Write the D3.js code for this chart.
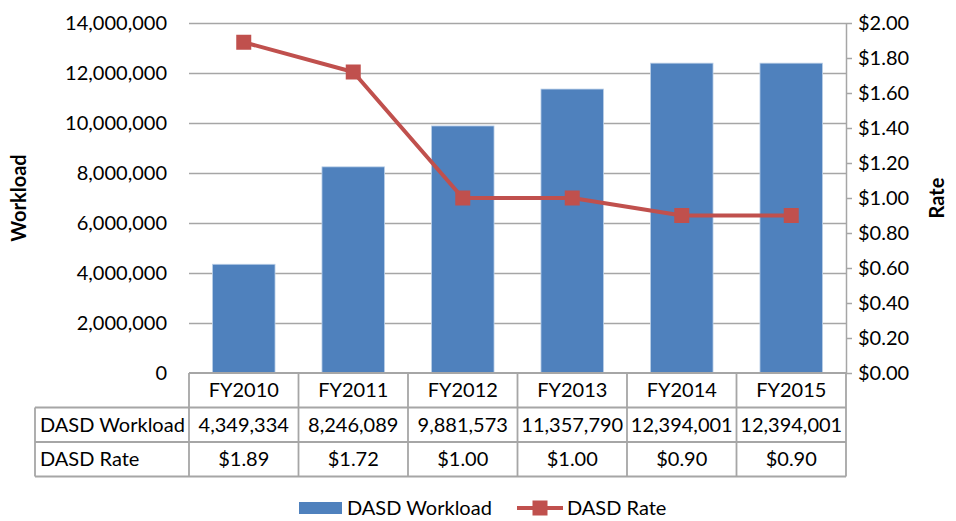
<!DOCTYPE html>
<html>
<head>
<meta charset="utf-8">
<script src="https://cdn.jsdelivr.net/npm/d3@7"></script>
<style>
  body { margin: 0; background: #fff; }
  svg text { font-family: Lato, "Open Sans", sans-serif; fill: #000; }
</style>
</head>
<body>
<div id="chart"></div>
<script>
const categories = ['FY2010', 'FY2011', 'FY2012', 'FY2013', 'FY2014', 'FY2015'];
const workload = [4349334, 8246089, 9881573, 11357790, 12394001, 12394001];
const rate = [1.89, 1.72, 1.00, 1.00, 0.90, 0.90];
const workloadTicks = [0, 2000000, 4000000, 6000000, 8000000, 10000000, 12000000, 14000000];
const rateTicks = [0, 0.2, 0.4, 0.6, 0.8, 1.0, 1.2, 1.4, 1.6, 1.8, 2.0];

const width = 956;
const height = 521;
const plot = { left: 189, right: 846, top: 23, bottom: 373 };
const rowH = 34.5;
const tableLeft = 35;
const fs = '20px';

const blue = '#4F81BD';
const red = '#C0504D';
const grid = '#A6A6A6';

const svg = d3.select('#chart')
    .append('svg')
    .attr('width', width)
    .attr('height', height);

const xScale = d3.scaleBand()
    .domain(categories)
    .range([plot.left, plot.right])
    .padding(0);

const barW = xScale.bandwidth() / 1.75; // gap width 75%

const yLeft = d3.scaleLinear()
    .domain([0, 14000000])
    .range([plot.bottom, plot.top]);

const yRight = d3.scaleLinear()
    .domain([0, 2])
    .range([plot.bottom, plot.top]);

// gridlines
svg.append('g')
    .attr('transform', `translate(${plot.left},0)`)
    .call(d3.axisLeft(yLeft).tickValues(workloadTicks.slice(1)).tickSize(-(plot.right - plot.left)).tickFormat(''))
    .call(g => g.select('.domain').remove())
    .call(g => g.selectAll('line').attr('stroke', grid).attr('stroke-width', 1.5));

// left tick labels
svg.append('g')
    .attr('transform', `translate(${plot.left},0)`)
    .call(d3.axisLeft(yLeft).tickValues(workloadTicks).tickSize(0).tickPadding(22).tickFormat(d3.format(',')))
    .call(g => g.select('.domain').remove())
    .call(g => g.selectAll('text').style('font-size', fs).attr('dy', '0.34em'));

// bars
svg.append('g')
    .selectAll('rect')
    .data(categories)
    .join('rect')
    .attr('x', d => xScale(d) + (xScale.bandwidth() - barW) / 2)
    .attr('y', (d, i) => yLeft(workload[i]))
    .attr('width', barW)
    .attr('height', (d, i) => plot.bottom - yLeft(workload[i]))
    .attr('fill', blue)
    .attr('stroke', '#BCD0E8')
    .attr('stroke-width', 0.8);

// right axis
svg.append('g')
    .attr('transform', `translate(${plot.right},0)`)
    .call(d3.axisRight(yRight).tickValues(rateTicks).tickSize(6).tickPadding(6).tickSizeOuter(0).tickFormat(d => '$' + d.toFixed(2)))
    .call(g => g.selectAll('line, .domain').attr('stroke', grid).attr('stroke-width', 1.5))
    .call(g => g.selectAll('text').style('font-size', fs).attr('dy', '0.34em'));

// rate line
const cx = d => xScale(d) + xScale.bandwidth() / 2;
const line = d3.line()
    .x(d => cx(d))
    .y((d, i) => yRight(rate[i]));

svg.append('path')
    .datum(categories)
    .attr('d', line)
    .attr('fill', 'none')
    .attr('stroke', red)
    .attr('stroke-width', 4)
    .attr('stroke-linejoin', 'round');

const ms = 15;
svg.append('g')
    .selectAll('rect')
    .data(categories)
    .join('rect')
    .attr('x', d => cx(d) - ms / 2)
    .attr('y', (d, i) => yRight(rate[i]) - ms / 2)
    .attr('width', ms)
    .attr('height', ms)
    .attr('fill', red);

// data table
const table = svg.append('g').attr('stroke', grid).attr('stroke-width', 1.8);
const rowsY = [plot.bottom, plot.bottom + rowH, plot.bottom + 2 * rowH, plot.bottom + 3 * rowH];

table.append('line').attr('x1', plot.left).attr('x2', plot.right).attr('y1', rowsY[0]).attr('y2', rowsY[0]);
[1, 2, 3].forEach(r => {
    table.append('line').attr('x1', tableLeft).attr('x2', plot.right).attr('y1', rowsY[r]).attr('y2', rowsY[r]);
});
table.append('line').attr('x1', tableLeft).attr('x2', tableLeft).attr('y1', rowsY[1]).attr('y2', rowsY[3]);
categories.forEach(c => {
    table.append('line').attr('x1', xScale(c)).attr('x2', xScale(c)).attr('y1', rowsY[0]).attr('y2', rowsY[3]);
});
table.append('line').attr('x1', plot.right).attr('x2', plot.right).attr('y1', rowsY[0]).attr('y2', rowsY[3]);

const cellText = svg.append('g').style('font-size', fs);
categories.forEach((c, i) => {
    cellText.append('text').attr('x', cx(c)).attr('y', rowsY[0] + rowH / 2).attr('dy', '0.36em')
        .attr('text-anchor', 'middle').text(c);
    cellText.append('text').attr('x', cx(c)).attr('y', rowsY[1] + rowH / 2).attr('dy', '0.36em')
        .attr('text-anchor', 'middle').text(d3.format(',')(workload[i]));
    cellText.append('text').attr('x', cx(c)).attr('y', rowsY[2] + rowH / 2).attr('dy', '0.36em')
        .attr('text-anchor', 'middle').text('$' + rate[i].toFixed(2));
});
cellText.append('text').attr('x', tableLeft + 5).attr('y', rowsY[1] + rowH / 2).attr('dy', '0.36em').text('DASD Workload');
cellText.append('text').attr('x', tableLeft + 5).attr('y', rowsY[2] + rowH / 2).attr('dy', '0.36em').text('DASD Rate');

// axis titles
svg.append('text')
    .attr('transform', `translate(26,${(plot.top + plot.bottom) / 2}) rotate(-90)`)
    .attr('text-anchor', 'middle')
    .style('font-size', fs).style('font-weight', 'bold')
    .text('Workload');

svg.append('text')
    .attr('transform', `translate(944,${(plot.top + plot.bottom) / 2}) rotate(-90)`)
    .attr('text-anchor', 'middle')
    .style('font-size', fs).style('font-weight', 'bold')
    .text('Rate');

// legend
const legend = svg.append('g').style('font-size', fs);
legend.append('rect').attr('x', 299).attr('y', 502).attr('width', 43).attr('height', 12).attr('fill', blue);
legend.append('text').attr('x', 347).attr('y', 508).attr('dy', '0.36em').text('DASD Workload');
legend.append('line').attr('x1', 517).attr('x2', 563).attr('y1', 508).attr('y2', 508)
    .attr('stroke', red).attr('stroke-width', 4);
legend.append('rect').attr('x', 540 - ms / 2).attr('y', 508 - ms / 2).attr('width', ms).attr('height', ms).attr('fill', red);
legend.append('text').attr('x', 567).attr('y', 508).attr('dy', '0.36em').text('DASD Rate');
</script>
</body>
</html>
